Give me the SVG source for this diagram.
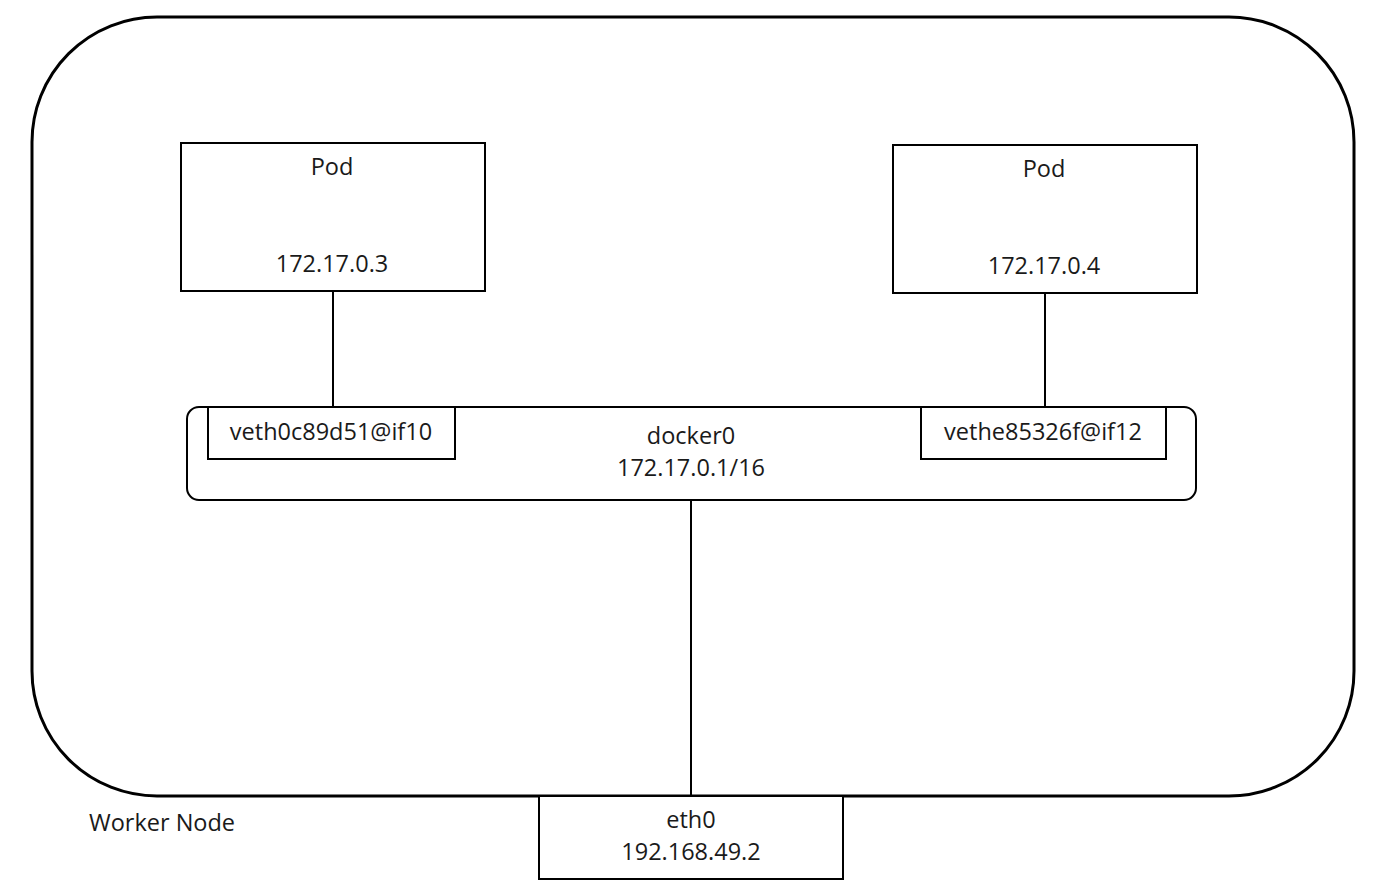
<svg xmlns="http://www.w3.org/2000/svg" width="1386" height="890" viewBox="0 0 1386 890">
<style>
.box{fill:#fff;stroke:#000;stroke-width:2}
.t{font-family:"Open Sans","DejaVu Sans",sans-serif;font-size:23.5px;fill:#1a1a1a;text-anchor:middle}
.c{stroke:#000;stroke-width:2;fill:none}
</style>
<rect x="0" y="0" width="1386" height="890" fill="#fff"/>
<g id="worker-node">
<rect x="32" y="17" width="1322" height="779" rx="125" ry="125" fill="none" stroke="#000" stroke-width="3"/>
<text class="t" x="162" y="831">Worker Node</text>
</g>
<g id="connectors">
<line class="c" x1="333" y1="291" x2="333" y2="407"/>
<line class="c" x1="1045" y1="293" x2="1045" y2="407"/>
<line class="c" x1="691" y1="500" x2="691" y2="796"/>
</g>
<g id="pod1">
<rect class="box" x="181" y="143" width="304" height="148"/>
<text class="t" x="332" y="175">Pod</text>
<text class="t" x="332" y="272">172.17.0.3</text>
</g>
<g id="pod2">
<rect class="box" x="893" y="145" width="304" height="148"/>
<text class="t" x="1044" y="177">Pod</text>
<text class="t" x="1044" y="274">172.17.0.4</text>
</g>
<g id="docker0">
<rect class="box" x="187" y="407" width="1009" height="93" rx="12" ry="12"/>
<text class="t" x="691" y="444">docker0</text>
<text class="t" x="691" y="476">172.17.0.1/16</text>
</g>
<g id="veth1">
<rect class="box" x="208" y="407" width="247" height="52"/>
<text class="t" x="331" y="440">veth0c89d51@if10</text>
</g>
<g id="veth2">
<rect class="box" x="921" y="407" width="245" height="52"/>
<text class="t" x="1043" y="440">vethe85326f@if12</text>
</g>
<g id="eth0">
<rect class="box" x="539" y="796" width="304" height="83"/>
<text class="t" x="691" y="828">eth0</text>
<text class="t" x="691" y="860">192.168.49.2</text>
</g>
</svg>
